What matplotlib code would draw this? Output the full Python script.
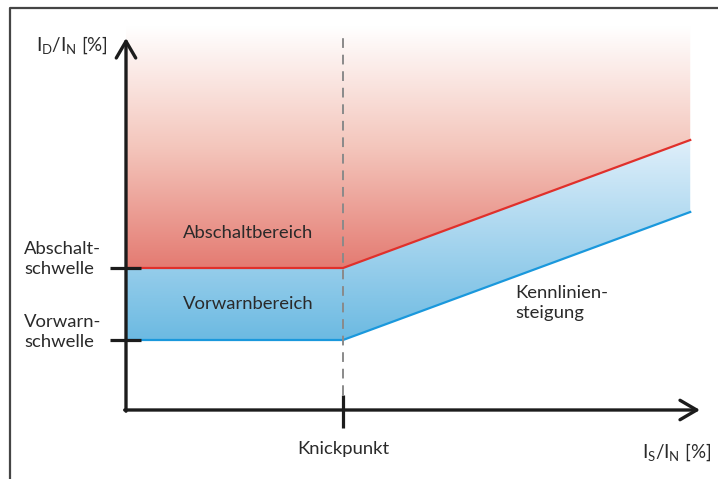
import numpy as np
import matplotlib.pyplot as plt
from matplotlib.colors import LinearSegmentedColormap
from matplotlib.patches import Polygon
from matplotlib.lines import Line2D

plt.rcParams['font.family'] = ['Lato', 'DejaVu Sans']
plt.rcParams['mathtext.default'] = 'regular'

# Kennlinie (x: I_S/I_N in %, y: I_D/I_N in %)
kennlinie_x = [0, 100, 260]
abschalt_y = [71, 71, 135]
vorwarn_y = [35, 35, 99]
knickpunkt = 100
schwellen_y = [71, 35]
schwellen_labels = ['Abschalt-\nschwelle', 'Vorwarn-\nschwelle']
bereich_labels = ['Abschaltbereich', 'Vorwarnbereich']
fade_top = 192      # where the red area has faded to white
x_axis_end = 264.5
y_axis_end = 186

fig = plt.figure(figsize=(7.18, 4.79), dpi=100)
ax = fig.add_axes([0, 0, 1, 1])

# ---- gradient areas ----
red_cmap = LinearSegmentedColormap.from_list('rot', ['#e47b72', '#f4c6bc', '#ffffff'])
blue_cmap = LinearSegmentedColormap.from_list('blau', ['#6cbae2', '#dfeffa'])
grad = np.linspace(0, 1, 256).reshape(-1, 1)

red_poly = Polygon(list(zip(kennlinie_x, abschalt_y)) +
                   [(kennlinie_x[-1], fade_top), (kennlinie_x[0], fade_top)],
                   closed=True, facecolor='none', edgecolor='none')
ax.add_patch(red_poly)
im = ax.imshow(grad, extent=[kennlinie_x[0], kennlinie_x[-1], abschalt_y[0], fade_top],
               origin='lower', cmap=red_cmap, aspect='auto', interpolation='bicubic')
im.set_clip_path(red_poly)

blue_poly = Polygon(list(zip(kennlinie_x, vorwarn_y)) +
                    list(zip(kennlinie_x[::-1], abschalt_y[::-1])),
                    closed=True, facecolor='none', edgecolor='none')
ax.add_patch(blue_poly)
im2 = ax.imshow(grad, extent=[kennlinie_x[0], kennlinie_x[-1], vorwarn_y[0], abschalt_y[-1]],
                origin='lower', cmap=blue_cmap, aspect='auto', interpolation='bicubic')
im2.set_clip_path(blue_poly)

# ---- characteristic lines ----
ax.plot(kennlinie_x, abschalt_y, color='#e0302b', lw=1.6, solid_joinstyle='miter')
ax.plot(kennlinie_x, vorwarn_y, color='#1a98dc', lw=1.6, solid_joinstyle='miter')

# Knickpunkt dashed line
ax.plot([knickpunkt, knickpunkt], [7.5, y_axis_end], color='#8a8a8a', lw=1.4, dashes=(5, 3.5))

# ---- axes with open arrow heads ----
arrow = dict(arrowstyle='->,head_length=0.6,head_width=0.35', lw=2.4, color='#1c1c1c',
             shrinkA=0, shrinkB=0, mutation_scale=20)
ax.annotate('', xy=(x_axis_end, 0), xytext=(-0.6, 0), arrowprops=arrow)
ax.annotate('', xy=(0, y_axis_end), xytext=(0, -0.6), arrowprops=arrow)

# ticks
for yv in schwellen_y:
    ax.plot([-7.4, 6.9], [yv, yv], color='#1c1c1c', lw=2.3, solid_capstyle='butt')
ax.plot([knickpunkt, knickpunkt], [7.5, -9], color='#1c1c1c', lw=2.3, solid_capstyle='butt')

# ---- texts ----
fs = 13.3
tc = '#2a2a2a'
ax.text(-47, 75.5, schwellen_labels[0], ha='left', va='center', fontsize=fs, color=tc, linespacing=1.3)
ax.text(-47, 39, schwellen_labels[1], ha='left', va='center', fontsize=fs, color=tc, linespacing=1.3)
ax.text(26.3, 88.5, bereich_labels[0], ha='left', va='center', fontsize=fs, color=tc)
ax.text(26.3, 53, bereich_labels[1], ha='left', va='center', fontsize=fs, color=tc)
ax.text(179.3, 53.5, 'Kennlinien-\nsteigung', ha='left', va='center', fontsize=fs, color=tc, linespacing=1.25)
ax.text(knickpunkt, -19.5, 'Knickpunkt', ha='center', va='center', fontsize=fs, color=tc)
ax.text(238, -21, r'$I_S/I_N$ [%]', ha='left', va='center', fontsize=13.5, color=tc)
ax.text(-41.5, 182.5, r'$I_D/I_N$ [%]', ha='left', va='center', fontsize=13.5, color=tc)

ax.set_xlim(-58.06, 272.8)
ax.set_ylim(-34.5, 205)
ax.axis('off')

# outer frame of the screenshot
fig.add_artist(Line2D([10 / 718, 10 / 718, 1], [0, 1 - 8 / 479, 1 - 8 / 479],
                      transform=fig.transFigure, color='#454545', lw=1.6))

fig.savefig('out.png', dpi=100)
